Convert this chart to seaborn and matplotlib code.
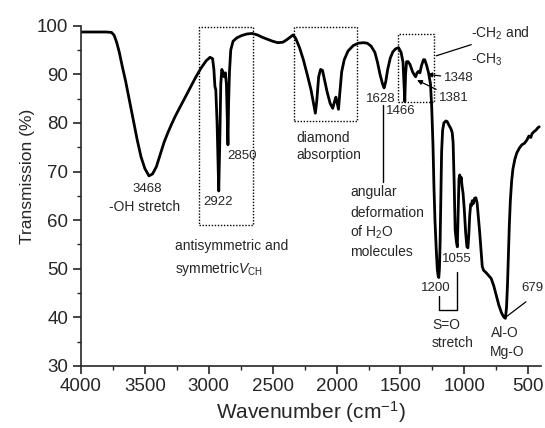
import numpy as np
import pandas as pd
import matplotlib
matplotlib.use("Agg")
import matplotlib.pyplot as plt
import seaborn as sns

# FTIR spectrum: wavenumber (cm^-1) and transmission (%)
wavenumber = [
    4000, 3800, 3760, 3740, 3720, 3700, 3680, 3650, 3620, 3590, 3560, 3530, 3500,
    3468, 3440, 3410, 3380, 3350, 3320, 3290, 3260, 3220, 3180, 3140, 3100, 3060,
    3020, 2990, 2970, 2960, 2952, 2945, 2935, 2922, 2914, 2906, 2898, 2890, 2880,
    2870, 2862, 2850, 2845, 2838, 2828, 2810, 2780, 2740, 2700, 2660, 2620, 2580,
    2540, 2500, 2460, 2420, 2390, 2360, 2340, 2320, 2290, 2260, 2230, 2200, 2180,
    2166, 2155, 2140, 2125, 2110, 2095, 2075, 2050, 2030, 2015, 2005, 1995, 1985,
    1975, 1960, 1940, 1910, 1870, 1830, 1790, 1760, 1730, 1700, 1680, 1660, 1640,
    1628, 1615, 1600, 1580, 1560, 1540, 1515, 1495, 1480, 1472, 1466, 1460, 1452,
    1440, 1425, 1405, 1390, 1381, 1370, 1360, 1348, 1335, 1320, 1310, 1295, 1280,
    1265, 1255, 1245, 1238, 1230, 1220, 1212, 1205, 1200, 1195, 1190, 1184, 1178,
    1170, 1160, 1145, 1135, 1120, 1105, 1095, 1088, 1080, 1072, 1062, 1055, 1048,
    1042, 1036, 1030, 1025, 1018, 1010, 1000, 990, 980, 972, 965, 958, 950, 943,
    938, 930, 920, 910, 900, 890, 880, 870, 860, 850, 830, 810, 790, 770, 750,
    730, 710, 695, 679, 670, 662, 655, 648, 640, 630, 620, 605, 590, 570, 550,
    530, 510, 495, 480, 470, 455, 440, 425, 414,
]
transmission = [
    98.7, 98.7, 98.6, 98.0, 96.5, 94.5, 92.0, 88.5, 84.5, 80.5, 76.5, 73.0, 70.6,
    69.1, 69.5, 71.0, 73.5, 76.0, 78.0, 79.8, 81.5, 83.5, 85.5, 87.5, 89.5, 91.3,
    92.8, 93.5, 93.2, 91.0, 87.5, 86.8, 80.0, 66.0, 76.0, 88.0, 91.0, 90.5, 89.5,
    90.3, 88.0, 75.5, 84.0, 90.5, 95.0, 96.8, 97.5, 98.0, 98.3, 98.4, 98.1, 97.6,
    97.2, 96.8, 96.5, 96.6, 97.1, 97.7, 98.1, 97.4, 95.5, 93.0, 90.0, 86.8, 84.0,
    82.0, 84.5, 89.5, 91.0, 90.8, 89.0, 86.5, 84.0, 83.0, 84.5, 85.3, 84.0, 82.8,
    86.0, 90.5, 93.0, 94.8, 95.9, 96.4, 96.5, 96.4, 95.8, 94.5, 92.5, 90.0, 88.0,
    87.2, 88.5, 91.0, 93.3, 94.6, 95.2, 95.5, 94.5, 92.5, 88.0, 84.4, 90.0, 92.6,
    92.6, 92.0, 90.5, 89.8, 89.5, 90.3, 90.6, 90.3, 91.8, 93.0, 93.0, 91.8, 90.3,
    88.0, 83.0, 75.0, 67.0, 60.0, 54.0, 50.0, 48.5, 48.2, 50.0, 55.0, 65.0, 74.0,
    78.5, 80.0, 80.4, 80.3, 79.5, 78.8, 78.0, 76.0, 68.0, 58.0, 55.5, 54.5, 62.0,
    68.5, 69.3, 68.0, 68.8, 67.0, 65.5, 62.0, 57.5, 54.5, 54.3, 57.0, 61.0, 63.3,
    63.0, 64.0, 63.4, 64.5, 64.6, 63.5, 60.5, 57.5, 54.0, 50.5, 49.7, 49.2, 48.6,
    48.0, 46.5, 44.5, 42.5, 41.0, 40.2, 39.8, 42.0, 47.0, 53.0, 59.0, 64.0, 68.0,
    70.5, 72.5, 73.8, 74.8, 75.5, 75.8, 76.5, 77.3, 77.0, 77.8, 78.2, 78.5, 79.0,
    79.2,
]

x_ticks = [4000, 3500, 3000, 2500, 2000, 1500, 1000, 500]
y_ticks = [30, 40, 50, 60, 70, 80, 90, 100]

# Dotted boxes around band groups: (wn_left, wn_right, T_bottom, T_top)
box_ch_stretch = (3076, 2656, 59.0, 99.8)
box_diamond = (2334, 1839, 80.3, 99.8)
box_ch_bend = (1521, 1234, 84.4, 98.2)

sns.set_style("ticks")
plt.rcParams["font.family"] = ["Liberation Sans", "DejaVu Sans"]
plt.rcParams["mathtext.fontset"] = "custom"
plt.rcParams["mathtext.rm"] = "Liberation Sans"
plt.rcParams["mathtext.it"] = "Liberation Sans:italic"
plt.rcParams["mathtext.default"] = "regular"

df = pd.DataFrame({"wavenumber": wavenumber, "transmission": transmission})

fig = plt.figure(figsize=(5.45, 4.28), dpi=100)
ax = fig.add_axes([0.1486, 0.1449, 0.8441, 0.7951])

sns.lineplot(data=df, x="wavenumber", y="transmission", sort=False,
             color="black", linewidth=2.0, ax=ax)

ax.set_xlim(4000, 400)
ax.set_ylim(30, 100)
ax.set_xticks(x_ticks)
ax.set_yticks(y_ticks)
ax.set_xticks(np.arange(3750, 400, -500), minor=True)
ax.set_yticks(np.arange(35, 100, 10), minor=True)
ax.tick_params(axis="both", which="major", direction="out", length=5.5, width=1.2,
               labelsize=13.5)
ax.tick_params(axis="x", which="major", pad=3)
ax.tick_params(axis="y", which="major", pad=3.5)
ax.tick_params(axis="both", which="minor", direction="out", length=3, width=1.0)
for side in ("top", "right"):
    ax.spines[side].set_visible(False)
for side in ("left", "bottom"):
    ax.spines[side].set_linewidth(1.2)

ax.set_xlabel("Wavenumber (cm$^{-1}$)", fontsize=15)
ax.set_ylabel("Transmission (%)", fontsize=12.5)
ax.xaxis.set_label_coords(0.5, -0.098)
ax.yaxis.set_label_coords(-0.1, 0.557)

# dotted boxes
for x0, x1, y0, y1 in (box_ch_stretch, box_diamond, box_ch_bend):
    ax.plot([x0, x1, x1, x0, x0], [y0, y0, y1, y1, y0], color="black",
            linestyle=(0, (1, 1.2)), linewidth=1.0)

num_fs = 9.5
txt_fs = 10

# band labels
ax.text(3484, 66.4, "3468", fontsize=num_fs, ha="center", va="center")
ax.text(3500, 62.7, "-OH stretch", fontsize=txt_fs, ha="center", va="center")
ax.text(2930, 63.8, "2922", fontsize=num_fs, ha="center", va="center")
ax.text(2853, 73.2, "2850", fontsize=num_fs, ha="left", va="center")
ax.text(3266, 54.7, "antisymmetric and", fontsize=txt_fs, ha="left", va="center")
ax.text(3266, 49.9, "symmetric$\\mathit{V}_{CH}$", fontsize=txt_fs, ha="left",
        va="center")
ax.text(2315, 76.8, "diamond", fontsize=txt_fs, ha="left", va="center")
ax.text(2315, 73.4, "absorption", fontsize=txt_fs, ha="left", va="center")

ax.text(1656, 84.9, "1628", fontsize=num_fs, ha="center", va="center")
ax.text(1500, 82.4, "1466", fontsize=num_fs, ha="center", va="center")
ax.plot([1638, 1638], [83.7, 67.9], color="black", linewidth=1.0)
ax.text(1891, 65.7, "angular", fontsize=txt_fs, ha="left", va="center")
ax.text(1891, 61.5, "deformation", fontsize=txt_fs, ha="left", va="center")
ax.text(1891, 57.4, "of H$_2$O", fontsize=txt_fs, ha="left", va="center")
ax.text(1891, 53.5, "molecules", fontsize=txt_fs, ha="left", va="center")

ax.text(946, 98.5, "-CH$_2$ and", fontsize=txt_fs, ha="left", va="center")
ax.text(946, 93.0, "-CH$_3$", fontsize=txt_fs, ha="left", va="center")
ax.plot([1220, 946], [93.8, 96.1], color="black", linewidth=0.9)

ax.annotate("1348", xy=(1290, 90.0), xytext=(1160, 89.2), fontsize=num_fs,
            ha="left", va="center",
            arrowprops=dict(arrowstyle="-|>", color="black", lw=0.9,
                            mutation_scale=7, shrinkA=0, shrinkB=0))
ax.annotate("1381", xy=(1370, 88.8), xytext=(1195, 85.1), fontsize=num_fs,
            ha="left", va="center",
            arrowprops=dict(arrowstyle="-|>", color="black", lw=0.9,
                            mutation_scale=7, shrinkA=0, shrinkB=0))

ax.text(1063, 52.0, "1055", fontsize=num_fs, ha="center", va="center")
ax.text(1224, 46.0, "1200", fontsize=num_fs, ha="center", va="center")
ax.plot([1200, 1200, 1058, 1058], [44.4, 41.5, 41.5, 49.4], color="black",
        linewidth=1.0)
ax.text(1143, 38.4, "S=O", fontsize=txt_fs, ha="center", va="center")
ax.text(1092, 34.8, "stretch", fontsize=txt_fs, ha="center", va="center")

ax.text(469, 46.0, "679", fontsize=num_fs, ha="center", va="center")
ax.plot([518, 688], [43.2, 39.8], color="black", linewidth=0.9)
ax.text(680, 36.7, "Al-O", fontsize=txt_fs, ha="center", va="center")
ax.text(664, 32.9, "Mg-O", fontsize=txt_fs, ha="center", va="center")

fig.savefig("out.png", dpi=100)
